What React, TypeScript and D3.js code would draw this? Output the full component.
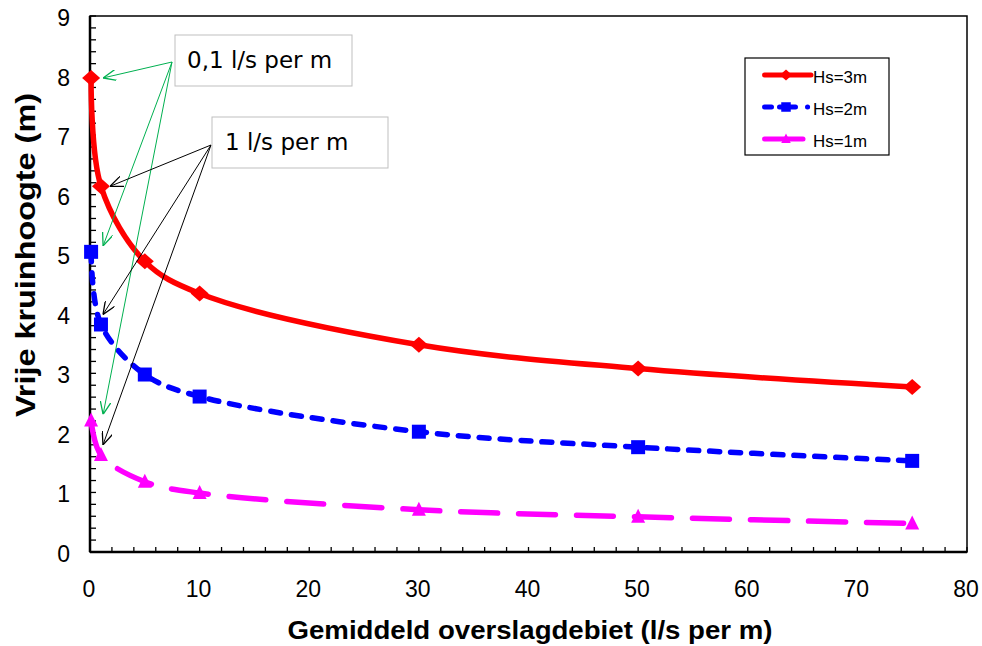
import React from "react";
import * as d3 from "d3";

const xValues = [0.1, 1, 5, 10, 30, 50, 75];
const hs3 = [7.96, 6.14, 4.88, 4.34, 3.48, 3.08, 2.77];
const hs2 = [5.04, 3.82, 2.98, 2.61, 2.02, 1.76, 1.53];
const hs1 = [2.21, 1.63, 1.18, 0.99, 0.71, 0.59, 0.48];
const seriesNames = ["Hs=3m", "Hs=2m", "Hs=1m"];
const xTicks = [0, 10, 20, 30, 40, 50, 60, 70, 80];
const yTicks = [0, 1, 2, 3, 4, 5, 6, 7, 8, 9];
const xTitle = "Gemiddeld overslagdebiet (l/s per m)";
const yTitle = "Vrije kruinhoogte (m)";
const note01 = "0,1 l/s per m";
const note1 = "1 l/s per m";

const W = 982, H = 646;
const L = 90, R = 967, T = 16, B = 552;

export default function App() {
  const x = d3.scaleLinear().domain([0, 80]).range([L, R]);
  const y = d3.scaleLinear().domain([0, 9]).range([B, T]);
  const line = d3
    .line<[number, number]>()
    .x((d) => x(d[0]))
    .y((d) => y(d[1]))
    .curve(d3.curveCatmullRom.alpha(0.5));

  const series = [
    { name: seriesNames[0], vals: hs3, color: "#ff0000", dash: "none", legDash: "none", legEnd: 811, marker: "diamond" },
    { name: seriesNames[1], vals: hs2, color: "#0000ff", dash: "10 11", legDash: "7 8 16 12 0.1 30", legEnd: 808, marker: "square" },
    { name: seriesNames[2], vals: hs1, color: "#ff00ff", dash: "37 21", legDash: "none", legEnd: 803, marker: "triangle" },
  ];

  const markerPath = (type: string, cx: number, cy: number, s = 1) => {
    if (type === "diamond") return `M${cx},${cy - 8 * s}L${cx + 9 * s},${cy}L${cx},${cy + 8 * s}L${cx - 9 * s},${cy}Z`;
    if (type === "square") return `M${cx - 7 * s},${cy - 7 * s}h${14 * s}v${14 * s}h${-14 * s}Z`;
    return `M${cx},${cy - 8 * s}L${cx + 7 * s},${cy + 6 * s}L${cx - 7 * s},${cy + 6 * s}Z`;
  };

  const xMinor = d3.range(0, 81, 2);
  const yMinor = d3.range(0, 9.01, 0.2);

  const greenSrc = [172, 62];
  const greenTargets: [number, number][] = [
    [0.1, hs3[0]],
    [0.1, hs2[0]],
    [0.1, hs1[0]],
  ];
  const blackSrc = [211, 145];
  const blackTargets: [number, number][] = [
    [1, hs3[1]],
    [1, hs2[1]],
    [1, hs1[1]],
  ];

  const font = "Arial, 'Liberation Sans', sans-serif";
  const noteFont = "'DejaVu Sans', Verdana, sans-serif";

  return (
    <svg width={W} height={H} style={{ position: "absolute", left: 0, top: 0, background: "#fff" }} fontFamily={font}>
      <defs>
        <marker id="ag" viewBox="0 0 12 10" refX="12" refY="5" markerWidth="13" markerHeight="11" markerUnits="userSpaceOnUse" orient="auto">
          <path d="M0,0L12,5L0,10" fill="none" stroke="#00b050" strokeWidth="1.2" />
        </marker>
        <marker id="ab" viewBox="0 0 12 10" refX="12" refY="5" markerWidth="13" markerHeight="11" markerUnits="userSpaceOnUse" orient="auto">
          <path d="M0,0L12,5L0,10" fill="none" stroke="#000" strokeWidth="1.2" />
        </marker>
      </defs>
      <rect x={0} y={0} width={W} height={H} fill="#fff" />
      <rect x={L} y={T} width={R - L} height={B - T} fill="none" stroke="#000" strokeWidth={1.5} />
      <line x1={L} x2={L} y1={T} y2={B} stroke="#000" strokeWidth={2.5} />
      <line x1={L} x2={R} y1={B} y2={B} stroke="#000" strokeWidth={2.5} />
      {xMinor.map((v) => (
        <line key={"xm" + v} x1={x(v)} x2={x(v)} y1={B} y2={B - 5} stroke="#000" strokeWidth={1.3} />
      ))}
      {yMinor.map((v, i) => (
        <line key={"ym" + i} x1={L} x2={L + 6} y1={y(v)} y2={y(v)} stroke="#000" strokeWidth={1.3} />
      ))}
      {xTicks.map((v) => (
        <text key={"xt" + v} x={x(v) - 1} y={597} fontSize={23} textAnchor="middle">{v}</text>
      ))}
      {yTicks.map((v) => (
        <text key={"yt" + v} x={70} y={y(v) + 10} fontSize={23} textAnchor="end">{v}</text>
      ))}
      <text x={530} y={639} fontSize={26} fontWeight="bold" textAnchor="middle" textLength={485} lengthAdjust="spacingAndGlyphs">{xTitle}</text>
      <text transform={`translate(35,255) rotate(-90)`} fontSize={27} fontWeight="bold" textAnchor="middle" textLength={324} lengthAdjust="spacingAndGlyphs">{yTitle}</text>

      {series.map((s) => {
        const pts = xValues.map((xv, i) => [xv, s.vals[i]] as [number, number]);
        return (
          <g key={s.name}>
            <path d={line(pts) || ""} fill="none" stroke={s.color} strokeWidth={5.5} strokeDasharray={s.dash} strokeLinecap={s.dash === "none" ? "butt" : "round"} />
            {pts.map((p, i) => (
              <path key={i} d={markerPath(s.marker, x(p[0]), y(p[1]))} fill={s.color} />
            ))}
          </g>
        );
      })}

      {greenTargets.map((t, i) => {
        const tx = x(t[0]) + 12, ty = y(t[1]) + (i === 0 ? 0 : -6);
        return (
          <line key={"g" + i} x1={greenSrc[0]} y1={greenSrc[1]} x2={tx} y2={ty} stroke="#00b050" strokeWidth={1} markerEnd="url(#ag)" />
        );
      })}
      {blackTargets.map((t, i) => {
        const tx = x(t[0]) + (i === 0 ? 9 : 2), ty = y(t[1]) + (i === 0 ? 0 : -10);
        return (
          <line key={"b" + i} x1={blackSrc[0]} y1={blackSrc[1]} x2={tx} y2={ty} stroke="#000" strokeWidth={1} markerEnd="url(#ab)" />
        );
      })}
      <rect x={175} y={35} width={177} height={51} fill="#fff" stroke="#bfbfbf" strokeWidth={1} />
      <text x={187} y={68} fontSize={23} fontFamily={noteFont} fill="#000">{note01}</text>
      <rect x={212} y={117} width={176} height={51} fill="#fff" stroke="#bfbfbf" strokeWidth={1} />
      <text x={225} y={150} fontSize={23} fontFamily={noteFont} fill="#000">{note1}</text>

      <rect x={745} y={58} width={144} height={97} fill="#fff" stroke="#000" strokeWidth={1.2} />
      {series.map((s, i) => {
        const ly = 75 + i * 32;
        return (
          <g key={"lg" + i}>
            <line x1={764.5} x2={s.legEnd} y1={ly} y2={ly} stroke={s.color} strokeWidth={5} strokeDasharray={s.legDash} strokeLinecap="round" />
            <path d={markerPath(s.marker, 786, ly, 0.68)} fill={s.color} />
            <text x={813} y={ly + 8} fontSize={17} textLength={54} lengthAdjust="spacingAndGlyphs">{s.name}</text>
          </g>
        );
      })}
    </svg>
  );
}
